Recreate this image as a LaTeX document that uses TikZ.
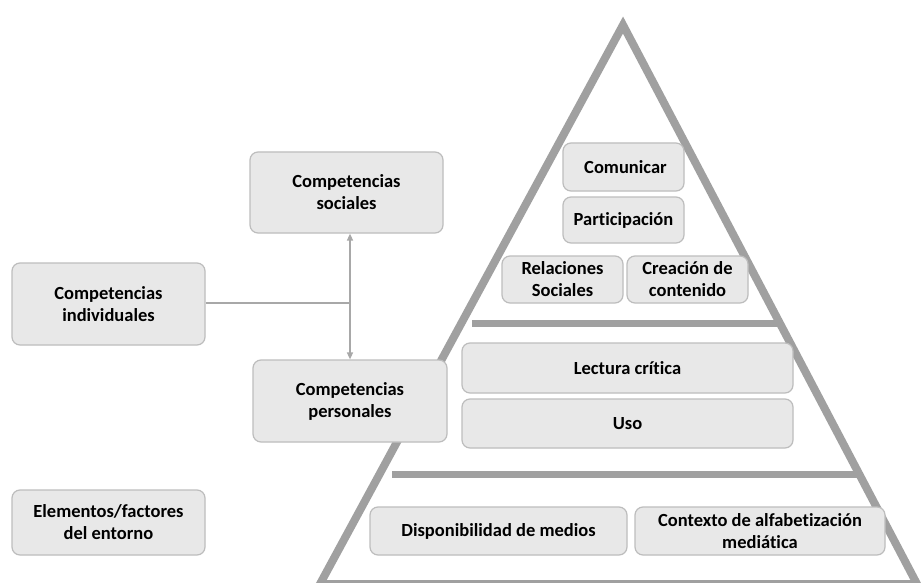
\documentclass[tikz,border=0pt]{standalone}
\usepackage{fontspec}
\setmainfont{Carlito}[Ligatures=NoCommon]
\usetikzlibrary{arrows.meta}
\definecolor{boxfill}{HTML}{E8E8E8}
\definecolor{boxline}{HTML}{BDBDBD}
\definecolor{pyr}{HTML}{A0A0A0}
\definecolor{link}{HTML}{A8A8A8}
\tikzset{
  box/.style={draw=boxline, line width=1.2pt, fill=boxfill, rounded corners=8pt,
    align=center, inner sep=0pt, text=black,
    font=\fontsize{18.5}{22}\selectfont\bfseries},
  pyrline/.style={draw=pyr, line width=8pt, line join=miter},
  bar/.style={draw=pyr, line width=7pt},
  link/.style={draw=link, line width=1.4pt},
  arr/.style={link, {Triangle[length=7pt,width=6pt]}-{Triangle[length=7pt,width=6pt]}}
}
\begin{document}
\begin{tikzpicture}[x=1pt, y=-1pt]
  \useasboundingbox (0,0) rectangle (921,583);
  \clip (0,0) rectangle (921,583);
  \fill[white] (0,0) rectangle (921,583);

  % pyramid outline and level separators
  \draw[pyrline] (623,25) -- (917,584) -- (320,584) -- cycle;
  \draw[bar] (472,323) -- (778,323);
  \draw[bar] (392,474) -- (858,474);

  % boxes inside the pyramid
  \node[box, minimum width=121pt, minimum height=48pt] (com) at (623.5,167) {\hspace*{4pt}Comunicar};
  \node[box, minimum width=121pt, minimum height=46pt] (par) at (623.5,220) {Participación};
  \node[box, minimum width=121pt, minimum height=47pt] (rel) at (562.5,279.5) {Relaciones\\Sociales};
  \node[box, minimum width=121pt, minimum height=47pt] (cre) at (687.5,279.5) {Creación de\\contenido};
  \node[box, minimum width=331pt, minimum height=50pt] (lec) at (627.5,368) {Lectura crítica};
  \node[box, minimum width=331pt, minimum height=49pt] (uso) at (627.5,423.5) {Uso};
  \node[box, minimum width=257pt, minimum height=48pt] (dis) at (498.5,531) {Disponibilidad de medios};
  \node[box, minimum width=250pt, minimum height=48pt] (ctx) at (760,531) {Contexto de alfabetización\\mediática};

  % competences on the left
  \node[box, minimum width=193pt, minimum height=81pt] (soc) at (346.5,192.5) {Competencias\\sociales};
  \node[box, minimum width=194pt, minimum height=82pt] (per) at (350,401) {Competencias\\personales};
  \node[box, minimum width=193pt, minimum height=82pt] (ind) at (108.5,304) {Competencias\\individuales};
  \node[box, minimum width=193pt, minimum height=65pt] (ent) at (108.5,522.5) {Elementos/factores\\del entorno};

  % links between the competences
  \coordinate (jn) at (350,303);
  \draw[link] (ind.east |- jn) -- (jn);
  \draw[arr] (jn |- soc.south) -- (jn |- per.north);
\end{tikzpicture}
\end{document}
